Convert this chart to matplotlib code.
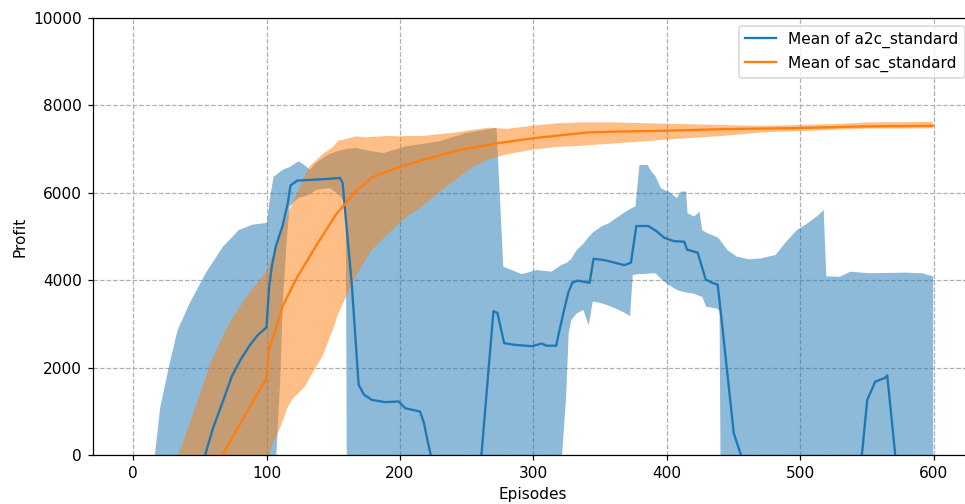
import matplotlib
matplotlib.use("Agg")
import numpy as np
import matplotlib.pyplot as plt

# a2c_standard band (upper / lower)
a2c_ep = [0, 10, 16, 20, 27, 33, 42, 54, 67, 79, 89, 99, 100, 102, 105, 106, 107, 110, 112, 115,
          117, 122, 124, 130, 132, 137, 142, 147, 154, 158, 159, 160, 167, 175, 187, 204, 229, 249,
          267, 271, 272, 277, 291, 302, 313, 320, 321, 324, 326, 328, 332, 337, 341, 344, 345, 351,
          356, 361, 367, 372, 374, 376, 379, 385, 388, 391, 395, 399, 401, 407, 410, 414, 415, 420,
          424, 426, 429, 436, 437, 439, 440, 445, 452, 461, 470, 481, 488, 497, 505, 513, 517, 519,
          529, 537, 551, 578, 591, 599]
a2c_hi = [-2500, -800, 0, 1100, 2100, 2870, 3480, 4170, 4780, 5160, 5280, 5320, 5330, 5850, 6390,
          6400, 6420, 6500, 6540, 6580, 6600, 6700, 6730, 6600, 6540, 6700, 6810, 6900, 6980, 7000,
          7010, 7020, 7036, 6980, 6920, 7074, 7190, 7380, 7470, 7495, 7480, 4320, 4150, 4245, 4206,
          4350, 4370, 4400, 4450, 4500, 4700, 4850, 5000, 5100, 5124, 5250, 5315, 5420, 5545, 5640,
          5670, 5700, 6650, 6650, 6500, 6390, 6120, 6050, 6040, 5890, 6040, 6040, 5545, 5470, 5580,
          5160, 5100, 5010, 5000, 4950, 4900, 4700, 4550, 4490, 4510, 4590, 4860, 5160, 5315, 5500,
          5620, 4100, 4090, 4206, 4170, 4185, 4170, 4100]
a2c_lo = [-3000, -3000, -3000, -3000, -3000, -3000, -3000, -3000, -3000, -3000, -3000, -3000,
          -3000, -3000, -3000, -3000, 0, 1800, 3600, 5000, 5700, 5850, 5900, 5950, 5980, 6080, 6100,
          6118, 5966, 5800, 5700, -2000, -2500, -2500, -2500, -2500, -2500, -2500, -2500, -2500,
          -2500, -2500, -2500, -2500, -2500, -1000, 0, 1300, 2800, 3100, 3250, 3330, 2980, 3520,
          3520, 3480, 3430, 3365, 3280, 3190, 4130, 4140, 4150, 4160, 4168, 4168, 4050, 3940, 3900,
          3790, 3760, 3730, 3724, 3700, 3650, 3633, 3400, 3370, 3365, 3300, -1500, -2500, -2500,
          -2500, -2500, -2500, -2500, -2500, -2500, -2500, -2500, -2500, -2500, -2500, -2500, -2500,
          -2500, -2500]

a2c_mean_ep = [0, 20, 40, 54, 60, 67, 74, 80, 87, 93, 100, 102, 104, 107, 112, 116, 118, 123, 142,
               155, 157, 164, 169, 173, 179, 189, 199, 204, 215, 218, 220, 223, 230, 250, 261, 270,
               273, 278, 286, 299, 306, 310, 317, 319, 323, 326, 329, 333, 342, 345, 353, 361, 368,
               373, 377, 386, 392, 398, 405, 413, 415, 423, 429, 434, 438, 442, 446, 450, 455, 460,
               500, 546, 550, 556, 563, 565, 571, 580, 599]
a2c_mean = [-2500, -1500, -600, 0, 620, 1200, 1800, 2150, 2490, 2730, 2920, 3860, 4320, 4780, 5240,
            5770, 6170, 6280, 6310, 6340, 6230, 3860, 1610, 1380, 1260, 1210, 1225, 1070, 995, 730,
            420, 0, -600, -800, 0, 3290, 3250, 2560, 2520, 2490, 2550, 2500, 2500, 2790, 3330, 3710,
            3940, 3990, 3940, 4490, 4460, 4400, 4345, 4400, 5240, 5240, 5125, 4970, 4895, 4880, 4700,
            4630, 4015, 3940, 3900, 2790, 1645, 500, 40, -500, -800, 0, 1260, 1680, 1760, 1820, 0,
            -700, -800]

# sac_standard band and mean
sac_ep = [0, 20, 34, 47, 59, 72, 87, 99, 102, 105, 110, 116, 120, 129, 132, 142, 150, 154, 157,
          167, 175, 179, 192, 200, 204, 217, 229, 242, 254, 267, 280, 300, 318, 334, 361, 388, 415,
          442, 470, 497, 524, 550, 575, 599]
sac_hi = [-2500, -1000, 0, 1110, 2180, 3020, 3710, 4170, 4350, 4600, 5000, 5500, 5800, 6400, 6600,
          6880, 7055, 7200, 7210, 7290, 7270, 7280, 7300, 7290, 7300, 7300, 7340, 7380, 7440, 7490,
          7460, 7540, 7590, 7610, 7610, 7590, 7570, 7550, 7530, 7550, 7570, 7610, 7615, 7625]
sac_lo = [-4000, -3500, -3000, -2600, -2200, -1800, -1000, -300, 0, 300, 600, 1100, 1300, 1570,
          1750, 2260, 2900, 3250, 3450, 4090, 4500, 4700, 5090, 5320, 5430, 5700, 6000, 6310, 6580,
          6770, 6880, 6990, 7050, 7075, 7130, 7190, 7250, 7300, 7380, 7410, 7440, 7470, 7470, 7475]

sac_mean_ep = [0, 30, 50, 67, 79, 92, 100, 102, 106, 112, 122, 137, 152, 167, 179, 187, 199, 217,
               244, 272, 300, 340, 361, 399, 442, 497, 545, 599]
sac_mean = [-3000, -1500, -700, 0, 650, 1340, 1740, 2450, 2790, 3400, 4015, 4780, 5500, 6040, 6350,
            6450, 6580, 6750, 6975, 7130, 7250, 7380, 7400, 7420, 7457, 7480, 7518, 7533]

fig = plt.figure(figsize=(965 / 111, 504 / 111), dpi=111)
ax = fig.add_axes([0.0964, 0.0972, 0.9115, 0.8671])

ax.fill_between(a2c_ep, a2c_lo, a2c_hi, color='C0', alpha=0.5, linewidth=0)
ax.fill_between(sac_ep, sac_lo, sac_hi, color='C1', alpha=0.5, linewidth=0)
ax.plot(a2c_mean_ep, a2c_mean, color='C0', linewidth=1.5, label='Mean of a2c_standard')
ax.plot(sac_mean_ep, sac_mean, color='C1', linewidth=1.5, label='Mean of sac_standard')

ax.set_xlim(-29.95, 628.95)
ax.set_ylim(0, 10000)
ax.set_xticks([0, 100, 200, 300, 400, 500, 600])
ax.set_yticks([0, 2000, 4000, 6000, 8000, 10000])
ax.set_axisbelow(True)
ax.grid(True, linestyle='--', color='#b0b0b0')
ax.spines['right'].set_visible(False)
ax.set_xlabel('Episodes')
ax.set_ylabel('Profit')
ax.legend(loc='upper right')

plt.savefig('out.png', dpi=111)
